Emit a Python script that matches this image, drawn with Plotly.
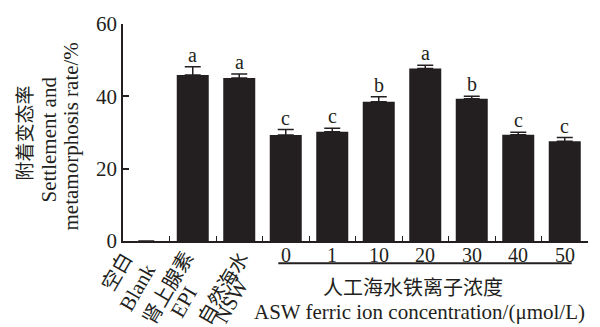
import plotly.graph_objects as go

categories = ["Blank", "EPI", "NSW", "0", "1", "10", "20", "30", "40", "50"]
values = [0, 45.9, 45.1, 29.3, 30.2, 38.5, 47.7, 39.3, 29.4, 27.6]
errors = [0, 2.3, 1.1, 1.5, 1.0, 1.4, 0.9, 0.7, 0.7, 1.0]
letters = ["", "a", "a", "c", "c", "b", "a", "b", "c", "c"]
control_labels_cn = ["空白", "肾上腺素", "自然海水"]
control_labels_en = ["Blank", "EPI", "NSW"]
conc_labels = ["0", "1", "10", "20", "30", "40", "50"]
y_ticks = [0, 20, 40, 60]

FONT = "Liberation Serif, Noto Sans CJK SC, serif"
BLACK = "#231f20"

idx = {c: i for i, c in enumerate(categories)}

fig = go.Figure()
fig.add_trace(go.Bar(
    x=categories, y=values,
    marker=dict(color=BLACK, line=dict(width=0)),
    error_y=dict(type="data", symmetric=False, array=errors,
                 arrayminus=[0] * len(errors), width=8, thickness=1.5, color=BLACK),
    showlegend=False, hoverinfo="skip",
))

ann = []
# significance letters
for c, v, e, l in zip(categories, values, errors, letters):
    if l:
        ann.append(dict(x=idx[c], y=v + e, xref="x", yref="y", text=l, showarrow=False,
                        yanchor="bottom", yshift=-1, font=dict(size=20, family=FONT, color=BLACK)))

# rotated control labels (two lines each)
cn_shift = [(-29.5, -31), (-25, -47), (-16, -47)]
en_shift = [(-8.5, -46), (-9, -61), (-8, -60)]
for i, (cn, en) in enumerate(zip(control_labels_cn, control_labels_en)):
    ann.append(dict(x=i, y=0, xref="x", yref="paper", text=cn, showarrow=False,
                    textangle=-60, xanchor="center", yanchor="middle",
                    xshift=cn_shift[i][0], yshift=cn_shift[i][1],
                    font=dict(size=20, family=FONT, color=BLACK)))
    ann.append(dict(x=i, y=0, xref="x", yref="paper", text=en, showarrow=False,
                    textangle=-60, xanchor="center", yanchor="middle",
                    xshift=en_shift[i][0], yshift=en_shift[i][1],
                    font=dict(size=21, family=FONT, color=BLACK)))

# concentration labels
for lab in conc_labels:
    ann.append(dict(x=idx[lab], y=0, xref="x", yref="paper", text=lab, showarrow=False,
                    xanchor="center", yanchor="middle", yshift=-14,
                    font=dict(size=20, family=FONT, color=BLACK)))

# x titles
ann.append(dict(x=0.6237, y=0, xref="paper", yref="paper", text="人工海水铁离子浓度",
                showarrow=False, xanchor="center", yanchor="middle", yshift=-47,
                font=dict(size=20, family=FONT, color=BLACK)))
ann.append(dict(x=0.6387, y=0, xref="paper", yref="paper",
                text="ASW ferric ion concentration/(μmol/L)",
                showarrow=False, xanchor="center", yanchor="middle", yshift=-71,
                font=dict(size=21, family=FONT, color=BLACK)))

# y titles
for txt, xs, ys, sz in [("附着变态率", -98, -1, 19),
                        ("Settlement and", -75, -7, 21),
                        ("metamorphosis rate/%", -53, -4, 21)]:
    ann.append(dict(x=0, y=0.5, xref="paper", yref="paper", text=txt, showarrow=False,
                    textangle=-90, xanchor="center", yanchor="middle",
                    xshift=xs, yshift=ys, font=dict(size=sz, family=FONT, color=BLACK)))

shapes = [dict(type="line", xref="x", yref="paper",
               x0=idx["0"] - 0.16, x1=idx["50"] + 0.15, y0=-0.1027, y1=-0.1027,
               line=dict(color=BLACK, width=2))]

fig.update_layout(
    width=600, height=327,
    margin=dict(l=123, r=12, t=17, b=86),
    paper_bgcolor="white", plot_bgcolor="white",
    bargap=0.312,
    annotations=ann, shapes=shapes,
    font=dict(family=FONT, color=BLACK),
    xaxis=dict(type="category", categoryorder="array", categoryarray=categories,
               range=[-0.5, len(categories) - 0.5],
               showline=True, linecolor=BLACK, linewidth=1.5,
               ticks="inside", tickson="boundaries", ticklen=5, tickwidth=1.2,
               tickcolor=BLACK, showticklabels=False, showgrid=False, zeroline=False),
    yaxis=dict(range=[0, 60], tickvals=y_ticks, showline=True, linecolor=BLACK,
               linewidth=1.5, ticks="inside", ticklen=6, tickwidth=1.5, tickcolor=BLACK,
               tickfont=dict(size=21, family=FONT, color=BLACK),
               showgrid=False, zeroline=False),
)

fig.write_html("out.html", config={"displayModeBar": False},
               post_script="document.body.style.margin='0';")
